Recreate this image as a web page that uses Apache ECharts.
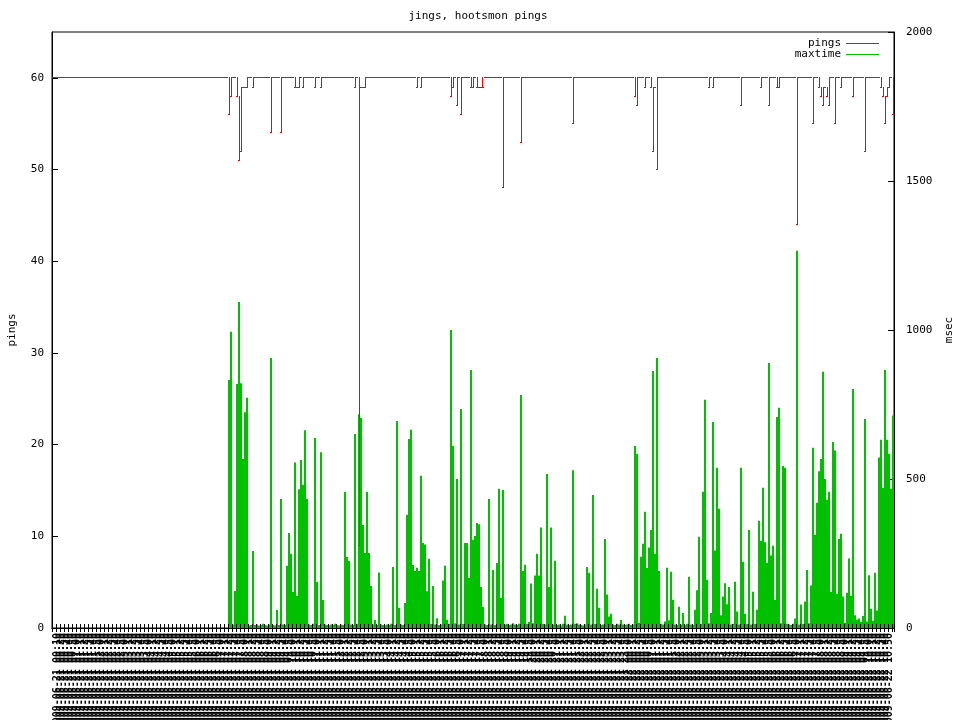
<!DOCTYPE html>
<html>
<head>
  <meta charset="utf-8">
  <script src="https://cdn.jsdelivr.net/npm/echarts@6/dist/echarts.min.js"></script>
  <style>
    body { margin: 0; padding: 0; background: #fff; }
    #chart { width: 960px; height: 720px; }
  </style>
</head>
<body>
  <div id="chart"></div>
  <script>
    // pings received per sample (out of 60), one value per sample
    const pings = [
      60, 60, 60, 60, 60, 60, 60, 60, 60, 60, 60, 60, 60, 60, 60, 60, 60, 60, 60, 60,
      60, 60, 60, 60, 60, 60, 60, 60, 60, 60, 60, 60, 60, 60, 60, 60, 60, 60, 60, 60,
      60, 60, 60, 60, 60, 60, 60, 60, 60, 60, 60, 60, 60, 60, 60, 60, 60, 60, 60, 60,
      60, 60, 60, 60, 60, 60, 60, 60, 60, 60, 60, 60, 60, 60, 60, 60, 60, 60, 60, 60,
      60, 60, 60, 60, 60, 60, 60, 60, 56, 58, 60, 60, 58, 51, 52, 59, 59, 59, 60, 60,
      59, 60, 60, 60, 60, 60, 60, 60, 60, 54, 60, 60, 60, 60, 54, 60, 60, 60, 60, 60,
      60, 59, 59, 59, 60, 59, 60, 60, 60, 60, 60, 59, 60, 60, 59, 60, 60, 60, 60, 60,
      60, 60, 60, 60, 60, 60, 60, 60, 60, 60, 60, 59, 60, 9, 59, 59, 59, 60, 60, 60,
      60, 60, 60, 60, 60, 60, 60, 60, 60, 60, 60, 60, 60, 60, 60, 60, 60, 60, 60, 60,
      60, 60, 59, 60, 59, 60, 60, 60, 60, 60, 60, 60, 60, 60, 60, 60, 60, 60, 60, 58,
      59, 60, 57, 60, 56, 60, 60, 60, 60, 59, 59, 60, 59, 59, 59, 59, 60, 60, 60, 60,
      60, 60, 60, 60, 60, 48, 60, 60, 60, 60, 60, 60, 60, 60, 53, 60, 60, 60, 60, 60,
      60, 60, 60, 60, 60, 60, 60, 60, 60, 60, 60, 60, 60, 60, 60, 60, 60, 60, 60, 60,
      55, 60, 60, 60, 60, 60, 60, 60, 60, 60, 60, 60, 60, 60, 60, 60, 60, 60, 60, 60,
      60, 60, 60, 60, 60, 60, 60, 60, 60, 60, 60, 58, 57, 60, 60, 60, 59, 60, 60, 59,
      52, 59, 50, 60, 60, 60, 60, 60, 60, 60, 60, 60, 60, 60, 60, 60, 60, 60, 60, 60,
      60, 60, 60, 60, 60, 60, 60, 60, 59, 60, 59, 60, 60, 60, 60, 60, 60, 60, 60, 60,
      60, 60, 60, 60, 57, 60, 60, 60, 60, 60, 60, 60, 60, 60, 59, 60, 60, 60, 57, 60,
      60, 60, 59, 59, 60, 60, 60, 60, 60, 60, 60, 60, 44, 60, 60, 60, 60, 60, 60, 60,
      55, 60, 60, 59, 58, 57, 59, 58, 57, 60, 60, 55, 60, 60, 59, 60, 60, 60, 60, 60,
      58, 60, 60, 60, 60, 60, 52, 60, 60, 60, 60, 60, 60, 60, 59, 58, 55, 58, 59, 60,
      56
    ];

    // maxtime in msec; no samples before index maxtimeStart
    const maxtimeStart = 88;
    const maxtime = [
      832, 994, 12, 124, 819, 1094, 821, 567, 724, 773,
      8, 10, 258, 10, 12, 8, 10, 14, 10, 8,
      12, 906, 10, 8, 60, 10, 433, 12, 10, 209,
      319, 249, 121, 555, 108, 466, 564, 481, 664, 433,
      12, 10, 14, 638, 154, 10, 590, 94, 12, 10,
      8, 12, 10, 14, 10, 8, 12, 10, 456, 238,
      225, 12, 10, 651, 14, 717, 705, 346, 252, 456,
      252, 141, 12, 27, 10, 186, 12, 10, 8, 12,
      10, 14, 205, 10, 695, 68, 12, 10, 84, 380,
      634, 665, 211, 191, 202, 191, 511, 285, 280, 123,
      232, 14, 141, 12, 33, 10, 12, 159, 209, 28,
      14, 1000, 611, 16, 500, 12, 735, 14, 285, 285,
      168, 866, 296, 309, 352, 348, 138, 71, 12, 10,
      433, 12, 195, 10, 218, 467, 101, 463, 12, 14,
      10, 12, 16, 12, 10, 14, 782, 191, 212, 14,
      20, 149, 16, 176, 249, 176, 337, 14, 12, 517,
      138, 337, 12, 226, 10, 12, 8, 14, 41, 12,
      10, 12, 529, 14, 16, 12, 10, 8, 12, 205,
      185, 12, 446, 14, 132, 68, 10, 12, 299, 112,
      39, 48, 12, 10, 14, 12, 27, 12, 10, 12,
      14, 10, 12, 611, 584, 18, 239, 283, 390, 201,
      270, 329, 862, 249, 906, 191, 14, 12, 22, 202,
      26, 189, 95, 12, 10, 71, 12, 50, 10, 14,
      172, 12, 10, 61, 127, 306, 14, 457, 766, 162,
      16, 50, 691, 260, 538, 400, 43, 106, 150, 80,
      138, 12, 14, 155, 55, 12, 538, 222, 48, 14,
      329, 12, 122, 14, 61, 360, 293, 471, 288, 219,
      889, 243, 276, 95, 708, 739, 16, 544, 538, 14,
      12, 10, 14, 32, 1266, 12, 79, 14, 89, 195,
      16, 143, 605, 313, 420, 526, 567, 860, 500, 430,
      457, 122, 624, 596, 115, 299, 316, 106, 18, 118,
      233, 107, 802, 43, 28, 32, 20, 40, 701, 22,
      177, 65, 24, 185, 59, 572, 632, 471, 866, 632,
      585, 467, 713
    ];

    // sample timestamps (x tick labels), 5 minute samples
    const startTime = Date.UTC(2009, 5, 21, 0, 0);
    const stepMinutes = 5;
    const pad = n => String(n).padStart(2, '0');
    const times = pings.map((_, i) => {
      const d = new Date(startTime + i * stepMinutes * 60000);
      return d.getUTCFullYear() + '-' + pad(d.getUTCMonth() + 1) + '-' + pad(d.getUTCDate()) +
        ' ' + pad(d.getUTCHours()) + ':' + pad(d.getUTCMinutes());
    });

    const maxtimeFull = pings.map((_, i) => i < maxtimeStart ? null : maxtime[i - maxtimeStart]);

    // gnuplot draws pings at 1px per sample, so dips show as thin vertical strokes:
    // each point gets its flat piece plus a stroke up to the higher neighbour
    const pingItems = pings.map((v, i) => {
      const hi = Math.max(v, i > 0 ? pings[i - 1] : v, i < pings.length - 1 ? pings[i + 1] : v);
      return [i, v, hi];
    });

    const red = '#ff0000';
    const green = '#00c000';

    function renderPing(params, api) {
      const p = api.coord([api.value(0), api.value(1)]);
      const top = api.coord([api.value(0), api.value(2)]);
      const w = api.size([1, 0])[0];
      const xl = Math.round(p[0] - w / 2);
      const xr = Math.round(p[0] + w / 2);
      const y = Math.floor(p[1]);
      const yt = Math.floor(top[1]);
      const xc = Math.floor(p[0]);
      const children = [{
        type: 'rect',
        shape: { x: xl, y: y, width: xr - xl, height: 1 },
        style: { fill: red, stroke: null },
        silent: true
      }];
      if (yt < y) {
        children.push({
          type: 'rect',
          shape: { x: xc, y: yt, width: 1, height: y - yt + 1 },
          style: { fill: red, stroke: null },
          silent: true
        });
      }
      return { type: 'group', children };
    }

    const font = 'DejaVu Sans Mono';
    const txt = { fontFamily: font, fontSize: 11, color: '#000' };

    const chart = echarts.init(document.getElementById('chart'));
    chart.setOption({
      animation: false,
      backgroundColor: '#fff',
      title: {
        text: 'jings, hootsmon pings',
        left: 473,
        top: 6,
        textAlign: 'center',
        textStyle: { ...txt, fontWeight: 'normal' }
      },
      legend: {
        orient: 'vertical',
        right: 76,
        top: 33,
        align: 'right',
        itemGap: 0,
        itemWidth: 33,
        itemHeight: 1,
        textStyle: { ...txt, lineHeight: 11 },
        data: [
          { name: 'pings', icon: 'rect', itemStyle: { color: red } },
          { name: 'maxtime', icon: 'rect', itemStyle: { color: green } }
        ]
      },
      grid: {
        left: 52, right: 66, top: 32, bottom: 92,
        show: true, borderColor: '#000', borderWidth: 1,
        containLabel: false, outerBoundsMode: 'none'
      },
      xAxis: [{
        type: 'category',
        data: times,
        position: 'bottom',
        z: 5,
        axisLine: { lineStyle: { color: '#000' } },
        axisTick: { show: true, inside: true, length: 4, interval: 1, lineStyle: { color: '#000' } },
        axisLabel: { interval: 1, rotate: 90, margin: 5, fontFamily: font, fontSize: 10, fontWeight: 'bold', color: '#000' },
        splitLine: { show: false }
      }, {
        type: 'category',
        data: times,
        position: 'top',
        z: 5,
        axisLine: { lineStyle: { color: '#000' } },
        axisTick: { show: true, inside: true, length: 4, interval: 1, lineStyle: { color: '#000' } },
        axisLabel: { show: false },
        splitLine: { show: false }
      }],
      yAxis: [{
        type: 'value',
        position: 'left',
        min: 0, max: 65, interval: 10,
        name: 'pings',
        nameLocation: 'middle',
        nameRotate: 90,
        nameGap: 34,
        nameTextStyle: txt,
        axisLine: { show: true, lineStyle: { color: '#000' } },
        axisTick: { show: true, inside: true, length: 6, lineStyle: { color: '#000' } },
        axisLabel: { ...txt, margin: 8, showMaxLabel: false },
        splitLine: { show: false }
      }, {
        type: 'value',
        position: 'right',
        min: 0, max: 2000, interval: 500,
        name: 'msec',
        nameLocation: 'middle',
        nameRotate: 90,
        nameGap: 48,
        nameTextStyle: txt,
        axisLine: { show: true, lineStyle: { color: '#000' } },
        axisTick: { show: true, inside: true, length: 6, lineStyle: { color: '#000' } },
        axisLabel: { ...txt, margin: 12, formatter: v => String(v) },
        splitLine: { show: false }
      }],
      series: [{
        name: 'pings',
        type: 'custom',
        yAxisIndex: 0,
        data: pingItems,
        encode: { x: 0, y: 1 },
        renderItem: renderPing,
        itemStyle: { color: red },
        z: 3
      }, {
        name: 'maxtime',
        type: 'bar',
        yAxisIndex: 1,
        data: maxtimeFull,
        barCategoryGap: '0%',
        itemStyle: { color: green },
        z: 2
      }]
    });
  </script>
</body>
</html>
